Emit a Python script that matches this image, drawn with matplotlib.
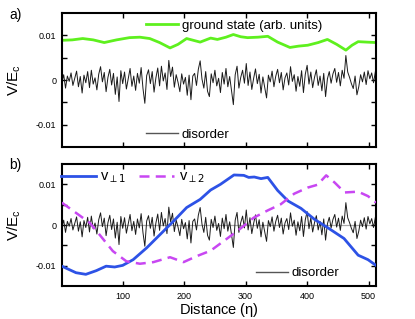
import numpy as np
import matplotlib
matplotlib.use('Agg')
import matplotlib.pyplot as plt
from matplotlib.lines import Line2D

plt.rcParams['font.family'] = ['Liberation Sans', 'DejaVu Sans']
plt.rcParams['mathtext.default'] = 'regular'

# disorder potential (units of 1e-3 E_c), sampled every 3 sites
dis_x = np.arange(1, 513, 3)
disorder = [
    -0.5, 1.2, -1.8, 0.9, -0.3, 1.6, -1.2, 0.4, 2.0, -1.5,
    0.8, -2.9, 1.1, -0.6, 1.9, -1.7, 2.2, -0.9, 0.5, -2.2,
    1.3, 3.0, -0.4, 1.7, -2.6, 0.6, 2.4, -1.1, 1.5, -3.2,
    0.7, -4.8, 2.1, -0.8, 1.8, -2.0, 0.3, 2.6, -1.4, 0.9,
    -2.3, 1.5, -0.7, 2.8, -1.9, -5.2, 1.0, 2.3, -0.8, 1.9,
    -2.7, 0.5, 2.7, -1.3, 3.1, -0.2, 1.6, -2.1, 4.4, 0.8,
    2.9, -1.6, 1.2, -0.5, -2.6, 1.4, -0.9, 0.6, -3.4, 1.1,
    -4.4, 0.9, 1.5, -1.2, 2.4, 4.3, 0.2, -1.8, 1.9, -2.5,
    -3.7, 1.4, -0.6, 2.2, -1.3, 0.4, -2.8, 1.7, -0.9, 2.6,
    -1.5, 0.8, -2.4, -5.5, 1.2, 3.1, -1.8, 0.6, 2.2, -0.7,
    3.7, -1.2, 1.8, -2.1, 0.4, 2.5, -0.8, 1.3, -2.9, 0.7,
    -1.6, -4.0, 1.1, -0.4, 2.0, -1.5, 0.9, 2.4, -0.6, 1.7,
    -2.2, 0.5, 1.6, -1.1, 3.0, -0.3, 1.2, -2.5, 0.8, -1.4,
    2.1, -2.8, 1.3, 3.3, -0.9, 1.8, -1.7, 0.6, 2.3, -1.2,
    0.9, -2.4, 1.5, -3.7, 0.3, 1.9, -0.7, 1.4, 2.6, -0.5,
    1.7, -1.3, 2.2, 0.4, 5.5, 1.8, 0.6, -0.8, -1.9, 0.9,
    -3.3, -1.5, 1.2, -0.4, 1.8, -1.0, 2.1, 0.3, 1.6, -0.6, 1.9,
]

# ground state (arb. units), plotted on V/E_c axis
gs_x = [1, 18, 35, 52, 70, 90, 111, 128, 144, 160, 177, 190, 204, 226,
        243, 254, 268, 280, 292, 303, 320, 336, 352, 372, 386, 401, 418,
        433, 448, 463, 473, 483, 497, 512]
gs_y = [8.9, 9.0, 9.3, 9.0, 8.4, 9.0, 9.5, 9.6, 9.3, 8.4, 7.2, 8.0, 9.3,
        8.5, 9.4, 9.1, 9.6, 10.2, 9.7, 9.5, 9.6, 9.8, 8.5, 7.3, 7.6, 7.8,
        8.4, 9.1, 8.0, 6.7, 7.8, 8.6, 8.5, 8.4]

# v_perp1
v1_x = [1, 24, 40, 57, 73, 87, 100, 117, 139, 161, 183, 204, 226, 243,
        259, 281, 297, 305, 314, 325, 336, 352, 369, 390, 412, 434, 460,
        483, 499, 512]
v1_y = [-10.1, -11.7, -12.1, -11.2, -10.1, -10.3, -9.9, -8.5, -5.6, -2.3,
        1.0, 4.3, 6.3, 8.6, 10.0, 12.3, 12.2, 11.7, 11.8, 11.4, 11.7, 8.5,
        5.9, 4.1, 1.4, -0.7, -3.3, -7.4, -8.5, -9.9]

# v_perp2
v2_x = [1, 24, 46, 62, 84, 106, 128, 150, 177, 199, 221, 243, 270, 292,
        313, 336, 357, 379, 401, 417, 431, 445, 461, 483, 499, 512]
v2_y = [5.5, 3.0, 0.6, -2.3, -6.4, -8.9, -9.5, -9.1, -7.9, -9.1, -7.6,
        -6.3, -3.3, -0.8, 1.8, 3.6, 5.1, 7.7, 9.2, 9.9, 12.2, 10.4, 8.0,
        8.2, 7.1, 5.5]

xticks = [100, 200, 300, 400, 500]
yticks = [-0.01, -0.005, 0, 0.005, 0.01]
ylabels = ['-0.01', '', '0', '', '0.01']

disorder = np.array(disorder) * 1e-3
gs_y = np.array(gs_y) * 1e-3
v1_y = np.array(v1_y) * 1e-3
v2_y = np.array(v2_y) * 1e-3

fig = plt.figure(figsize=(4.15, 3.19), dpi=100)
ax1 = fig.add_axes([0.149, 0.539, 0.757, 0.420])
ax2 = fig.add_axes([0.149, 0.103, 0.757, 0.383])

green = '#5ef01e'
blue = '#2d52e6'
magenta = '#c847f2'

# panel a
ax1.plot(dis_x, disorder, color='#1a1a1a', lw=0.7)
ax1.plot(gs_x, gs_y, color=green, lw=2.0)

# panel b
ax2.axhline(0, color='#a8a8a8', lw=0.9, zorder=1)
ax2.plot(dis_x, disorder, color='#1a1a1a', lw=0.7, zorder=2)
ax2.plot(v1_x, v1_y, color=blue, lw=2.0, zorder=3)
ax2.plot(v2_x, v2_y, color=magenta, lw=1.8, ls=(0, (4, 2.5)), zorder=3)

for ax in (ax1, ax2):
    ax.set_xlim(1, 512)
    ax.set_ylim(-0.015, 0.015)
    ax.set_xticks(xticks)
    ax.set_yticks(yticks)
    ax.set_yticklabels(ylabels)
    ax.tick_params(direction='in', top=True, right=True, length=3.5,
                   width=1.0, labelsize=6.5, pad=4)
    for s in ax.spines.values():
        s.set_linewidth(1.5)
    ax.set_ylabel('V/E$_c$', fontsize=11)
    ax.yaxis.set_label_coords(-0.125, 0.5)

ax1.set_xticklabels([])
ax2.set_xlabel('Distance ($\\eta$)', fontsize=10.5, labelpad=0)

dis_handle = Line2D([], [], color='#555555', lw=1.0)
gs_handle = Line2D([], [], color=green, lw=2.0)
leg_a1 = ax1.legend([gs_handle], ['ground state (arb. units)'], loc='upper left',
                    bbox_to_anchor=(0.23, 1.04), frameon=False, fontsize=9.5,
                    handlelength=2.4, handletextpad=0.3)
ax1.add_artist(leg_a1)
ax1.legend([dis_handle], ['disorder'], loc='lower left',
           bbox_to_anchor=(0.23, -0.04), frameon=False, fontsize=9.5,
           handlelength=2.4, handletextpad=0.3)

v1_handle = Line2D([], [], color=blue, lw=2.0)
v2_handle = Line2D([], [], color=magenta, lw=1.8, ls=(0, (4, 2.5)))
leg_b1 = ax2.legend([v1_handle, v2_handle],
                    ['v$_{\\mathsf{\\perp 1}}$', 'v$_{\\mathsf{\\perp 2}}$'],
                    loc='upper left', bbox_to_anchor=(-0.045, 1.06), ncol=2,
                    frameon=False, fontsize=10.5, handlelength=2.4,
                    handletextpad=0.3, columnspacing=0.9)
ax2.add_artist(leg_b1)
ax2.legend([dis_handle], ['disorder'], loc='lower left',
           bbox_to_anchor=(0.58, -0.04), frameon=False, fontsize=9.5,
           handlelength=2.4, handletextpad=0.3)

fig.text(0.022, 0.94, 'a)', fontsize=10)
fig.text(0.022, 0.47, 'b)', fontsize=10)

fig.savefig('out.png', dpi=100)
